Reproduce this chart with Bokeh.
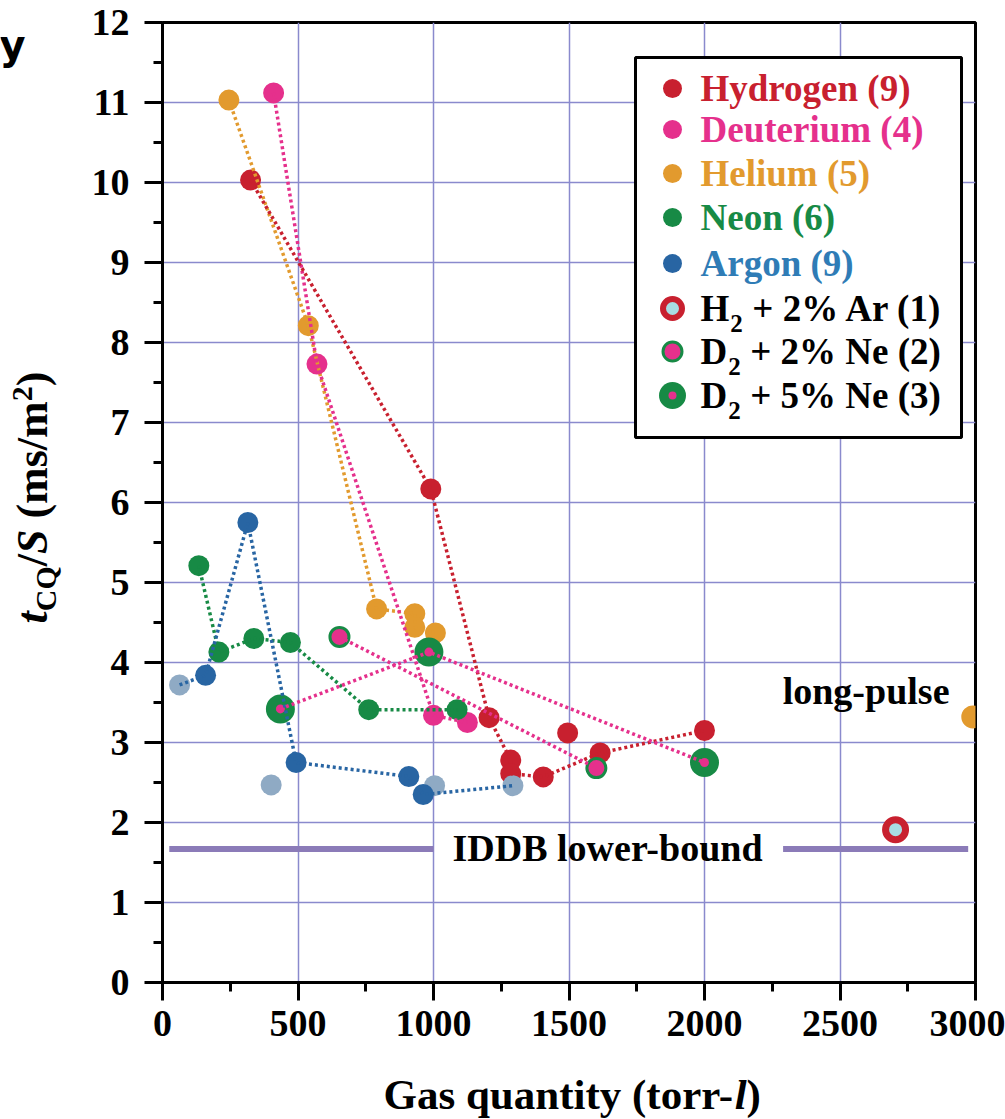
from math import pi
from bokeh.plotting import figure
from bokeh.layouts import row, column
from bokeh.models import Range1d, FixedTicker, Label
from bokeh.embed import file_html
from bokeh.resources import INLINE

# ---------------- data ----------------
hydrogen_x = [325, 990, 1205, 1285, 1285, 1405, 1495, 1615, 2000]
hydrogen_y = [10.03, 6.17, 3.31, 2.78, 2.61, 2.57, 3.12, 2.87, 3.15]
hydrogen_path = [0, 1, 2, 3, 4, 5, 7, 8]

deuterium_x = [410, 570, 1000, 1125]
deuterium_y = [11.12, 7.73, 3.34, 3.25]
deuterium_path = [0, 1, 2, 3]

helium_x = [245, 538, 790, 931, 931, 1007]
helium_y = [11.03, 8.21, 4.67, 4.61, 4.44, 4.37]
helium_path = [0, 1, 2, 3, 4, 5]
longpulse_x = [2990]
longpulse_y = [3.32]

neon_x = [134, 208, 337, 472, 761, 1087]
neon_y = [5.21, 4.13, 4.30, 4.25, 3.41, 3.41]
neon_path = [0, 1, 2, 3, 4, 5]

argon_x = [159, 315, 493, 909, 962]
argon_y = [3.84, 5.75, 2.75, 2.575, 2.35]
argon_light_x = [63, 401, 1004, 1293]
argon_light_y = [3.72, 2.47, 2.46, 2.46]
argon_path_x = [63, 159, 315, 493, 909, 962, 1293]
argon_path_y = [3.72, 3.84, 5.75, 2.75, 2.575, 2.35, 2.46]

h2ar_x = [2705]
h2ar_y = [1.91]

d2ne2_x = [653, 1601]
d2ne2_y = [4.32, 2.68]

d2ne5_x = [435, 983, 2000]
d2ne5_y = [3.42, 4.13, 2.75]

iddb_level = 1.67
iddb_segments = [(25, 1000), (2290, 2973)]

x_ticks = [0, 500, 1000, 1500, 2000, 2500, 3000]
x_minor = [250, 750, 1250, 1750, 2250, 2750]
y_ticks = list(range(0, 13))
y_minor = [i + 0.5 for i in range(0, 12)]

legend_labels = ["Hydrogen (9)", "Deuterium (4)", "Helium (5)", "Neon (6)", "Argon (9)",
                 "H|2|+ 2% Ar (1)", "D|2|+ 2% Ne (2)", "D|2|+ 5% Ne (3)"]

# ---------------- style ----------------
RED = "#c8202f"
PINK = "#e5308c"
ORANGE = "#e29a2e"
GREEN = "#178a45"
BLUE = "#2865a3"
LIGHTBLUE = "#8faac4"
ARGON_TEXT = "#2f7cb6"
RING_FILL = "#a8dce3"
IDDB = "#8b7bb8"
GRID = "#8a8acd"
SERIF = "Liberation Serif"
KB = 0.33  # baseline correction (fraction of font size)

W, H = 1005, 1119
LSW = 70      # left strip width (y-axis title)
BSH = 50      # bottom strip height (x-axis title)
FL, FR, FT, FB = 162, 975, 22, 982   # frame edges in page pixels
XMAX, YMAX = 3000, 12
MW, MH = W - LSW, H - BSH


def dx(px):
    return (px - FL) / (FR - FL) * XMAX


def dy(py):
    return (FB - py) / (FB - FT) * YMAX


p = figure(width=MW, height=MH, x_range=Range1d(0, XMAX), y_range=Range1d(0, YMAX),
           output_backend="svg", toolbar_location=None, tools="",
           min_border_left=FL - LSW, min_border_right=W - FR, min_border_top=FT,
           min_border_bottom=MH - FB)
p.background_fill_color = "white"
p.border_fill_color = "white"
p.outline_line_color = "black"
p.outline_line_width = 3

p.xaxis.ticker = FixedTicker(ticks=x_ticks, minor_ticks=x_minor)
p.yaxis.ticker = FixedTicker(ticks=y_ticks, minor_ticks=y_minor)
for ax in (p.xaxis[0], p.yaxis[0]):
    ax.axis_line_width = 3
    ax.axis_line_color = "black"
    ax.major_tick_line_width = 3
    ax.minor_tick_line_width = 3
    ax.major_tick_line_color = "black"
    ax.minor_tick_line_color = "black"
    ax.major_tick_in = 0
    ax.major_tick_out = 18
    ax.minor_tick_in = 0
    ax.minor_tick_out = 9
    ax.major_label_text_font = SERIF
    ax.major_label_text_font_style = "bold"
    ax.major_label_text_font_size = "38px"
    ax.major_label_text_color = "black"
p.xaxis.major_label_standoff = 10
p.yaxis.major_label_standoff = 15

for g in (p.xgrid[0], p.ygrid[0]):
    g.grid_line_color = GRID
    g.grid_line_width = 1.5

# IDDB lower bound
for a, b in iddb_segments:
    p.line([a, b], [iddb_level, iddb_level], line_color=IDDB, line_width=6)

# markers
p.scatter(helium_x, helium_y, size=21, fill_color=ORANGE, line_color=None)
p.scatter(longpulse_x, longpulse_y, size=23, fill_color=ORANGE, line_color=None)
p.scatter(deuterium_x, deuterium_y, size=21, fill_color=PINK, line_color=None)
p.scatter(hydrogen_x, hydrogen_y, size=21, fill_color=RED, line_color=None)
p.scatter(neon_x, neon_y, size=21, fill_color=GREEN, line_color=None)
p.scatter(argon_light_x, argon_light_y, size=21, fill_color=LIGHTBLUE, line_color=None)
p.scatter(argon_x, argon_y, size=21, fill_color=BLUE, line_color=None)
p.scatter(d2ne5_x, d2ne5_y, size=29, fill_color=GREEN, line_color=None)
p.scatter(d2ne5_x, d2ne5_y, size=9, fill_color=PINK, line_color=None)
p.scatter(d2ne2_x, d2ne2_y, size=19, fill_color=PINK, line_color=GREEN, line_width=3)
p.scatter(h2ar_x, h2ar_y, size=20, fill_color=RING_FILL, line_color=RED, line_width=7)

# dotted connecting lines (drawn over the markers)
DASH = "3 3"
LW = 3.5


def path(xs, ys, idx, color):
    p.line([xs[i] for i in idx], [ys[i] for i in idx], line_color=color,
           line_width=LW, line_dash=DASH)


path(helium_x, helium_y, helium_path, ORANGE)
path(deuterium_x, deuterium_y, deuterium_path, PINK)
path(hydrogen_x, hydrogen_y, hydrogen_path, RED)
path(neon_x, neon_y, neon_path, GREEN)
p.line(argon_path_x, argon_path_y, line_color=BLUE, line_width=LW, line_dash=DASH)
p.line(d2ne2_x, d2ne2_y, line_color=PINK, line_width=LW, line_dash=DASH)
p.line(d2ne5_x, d2ne5_y, line_color=PINK, line_width=LW, line_dash=DASH)


def lab(fig, text, px, py, size=37, style="bold", color="black", align="left",
        rotated=False, font=SERIF, main=True):
    """px, py: page pixels of the text's left end on its baseline."""
    if rotated:
        px = px - KB * size
    else:
        py = py - KB * size
    x, y = (dx(px), dy(py)) if main else (px, py)
    fig.add_layout(Label(x=x, y=y, text=text, text_font=font,
                         text_font_size=f"{size}px", text_font_style=style,
                         text_color=color, text_align=align,
                         text_baseline="alphabetic",
                         angle=(pi / 2 if rotated else 0.0)))


# ---------------- legend ----------------
LB_L, LB_R, LB_T, LB_B = 635, 961, 57, 437
p.quad(left=[dx(LB_L)], right=[dx(LB_R)], top=[dy(LB_T)], bottom=[dy(LB_B)],
       fill_color="white", line_color="black", line_width=3)
row_y = [88, 129, 173, 217, 263, 308, 351, 395]
MX = 672
TX = 700
simple_colors = [RED, PINK, ORANGE, GREEN, BLUE]
text_colors = [RED, PINK, ORANGE, GREEN, ARGON_TEXT, "black", "black", "black"]
for i in range(5):
    p.scatter([dx(MX)], [dy(row_y[i])], size=19, fill_color=simple_colors[i], line_color=None)
p.scatter([dx(MX)], [dy(row_y[5])], size=19, fill_color=RING_FILL, line_color=RED, line_width=6)
p.scatter([dx(MX)], [dy(row_y[6])], size=19, fill_color=PINK, line_color=GREEN, line_width=3)
p.scatter([dx(MX)], [dy(row_y[7])], size=27, fill_color=GREEN, line_color=None)
p.scatter([dx(MX)], [dy(row_y[7])], size=8, fill_color=PINK, line_color=None)

first_w = {"H": 28.8, "D": 26.7}
for i, txt in enumerate(legend_labels):
    base = row_y[i] + 12
    if "|" in txt:
        head, sub, rest = txt.split("|")
        lab(p, head, TX, base, color=text_colors[i])
        xs = TX + first_w[head] + 1
        lab(p, sub, xs, base + 11, size=25, color=text_colors[i])
        lab(p, rest, xs + 22, base, color=text_colors[i])
    else:
        lab(p, txt, TX, base, color=text_colors[i])

# ---------------- annotations in the plot ----------------
lab(p, "IDDB lower-bound", 452, 860, size=38)
lab(p, "long-pulse", 949, 703, size=38, align="right")


def strip(width, height, xr, yr, bl=0, br=0):
    f = figure(width=width, height=height, x_range=Range1d(*xr), y_range=Range1d(*yr),
               output_backend="svg", toolbar_location=None, tools="",
               x_axis_type=None, y_axis_type=None,
               min_border=0, min_border_left=bl, min_border_right=br,
               min_border_top=0, min_border_bottom=0)
    f.outline_line_color = None
    f.background_fill_color = "white"
    f.border_fill_color = "white"
    f.grid.visible = False
    return f


# left strip: y-axis title and the stray "y"
lf = strip(LSW, H, (0, LSW), (H, 0))
lab(lf, "y", -1, 58, size=40, font="DejaVu Sans", main=False)
YS = 44
SUB = 30
bx = 47
py0 = 623
pieces = [
    ("t", YS, "bold italic", 0, 0.278 * YS),
    ("CQ", SUB, "bold", 8, 1.50 * SUB),
    ("/", YS, "bold", 0, 0.278 * YS),
    ("S", YS, "bold italic", 0, 0.556 * YS),
    ("(ms/m", YS, "bold", 0, 2.666 * YS),
    ("2", SUB, "bold", -15, 0.5 * SUB),
    (")", YS, "bold", 0, 0.333 * YS),
]
cur = py0
for text, size, style, shift, w in pieces:
    if text.startswith("("):
        cur -= 0.25 * YS
    lab(lf, text, bx + shift, cur, size=size, style=style, rotated=True, main=False)
    cur -= w

# bottom strip: x-axis title (frame aligned with the main plot's frame)
bf = strip(MW, BSH, (FL, FR), (H, MH), bl=FL - LSW, br=W - FR)
XS = 43
lab(bf, "Gas quantity (torr-", 383, 1108, size=XS, main=False)
lab(bf, "l", 383 + 8.166 * XS, 1108, size=XS, style="bold italic", main=False)
lab(bf, ")", 383 + 8.444 * XS, 1108, size=XS, main=False)

layout = row(lf, column(p, bf, spacing=0), spacing=0)
open("out.html", "w").write(file_html(layout, INLINE))
